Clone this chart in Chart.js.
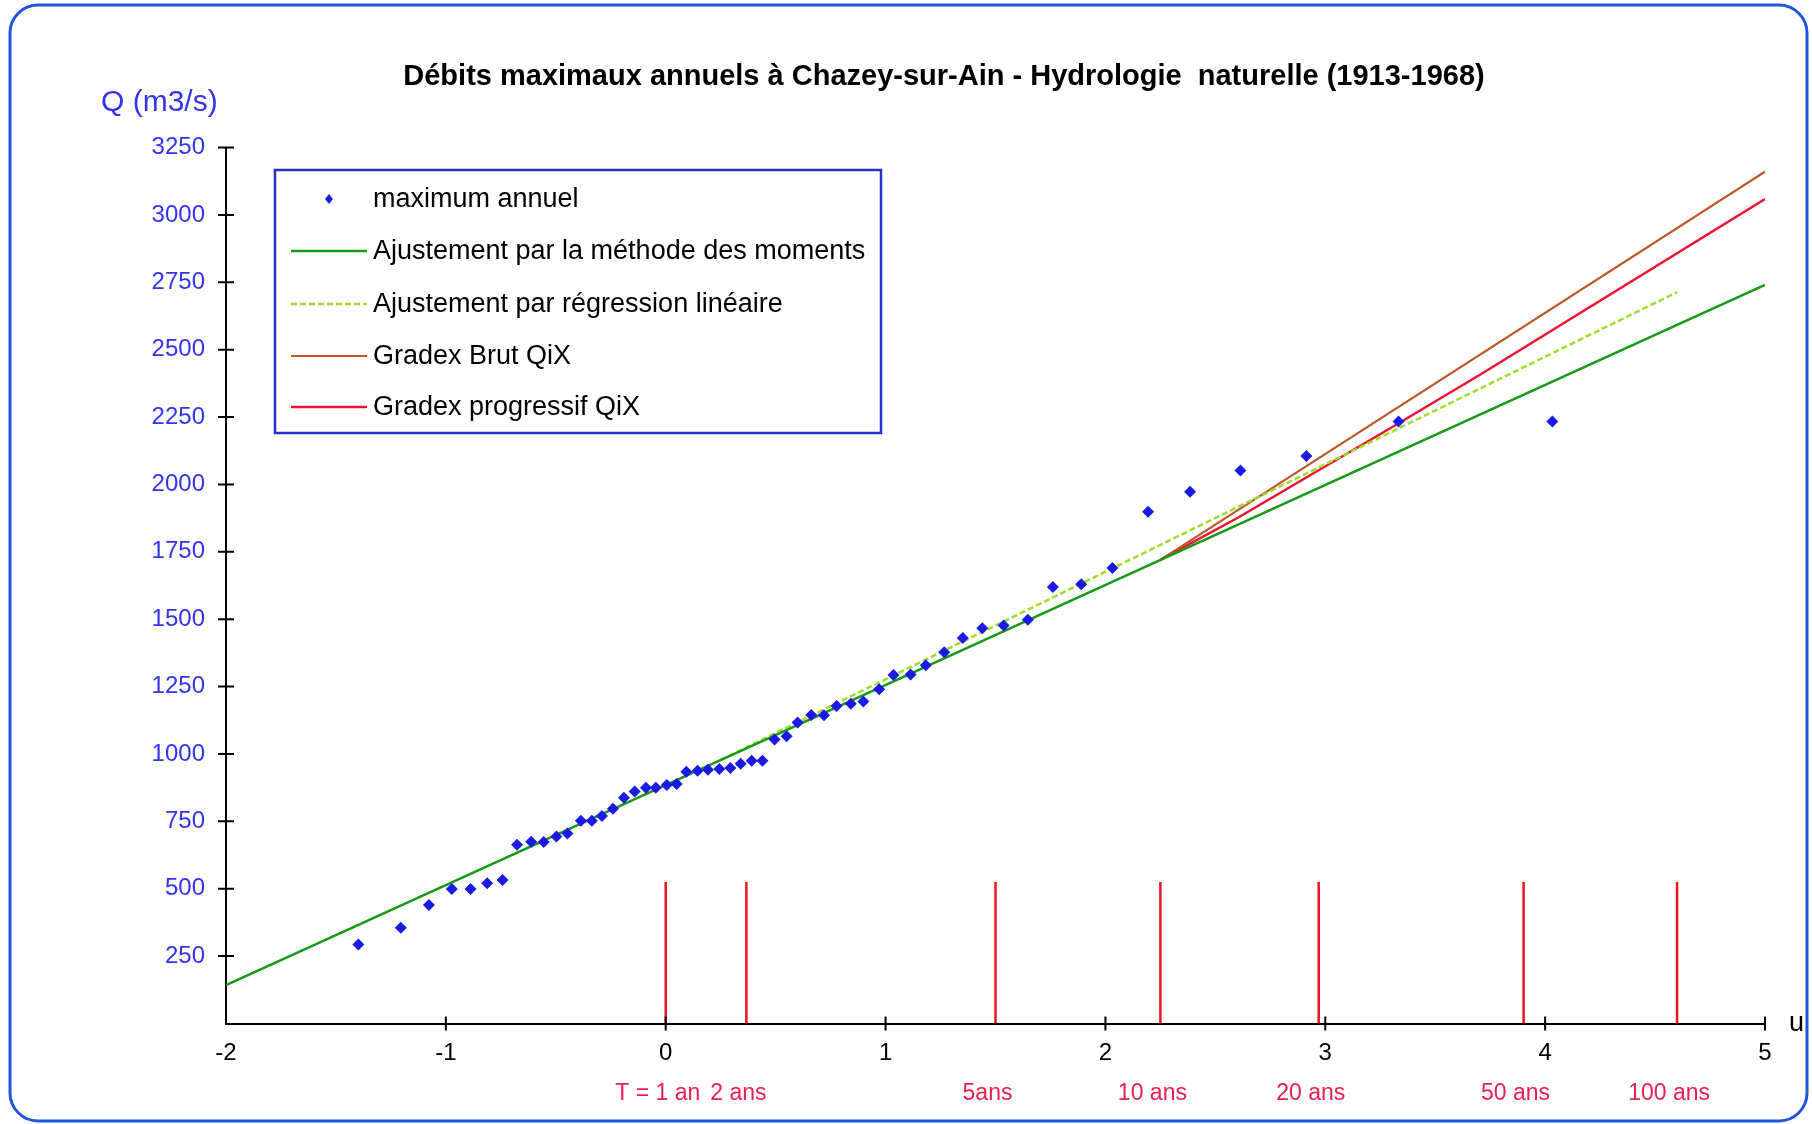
<!DOCTYPE html>
<html>
<head>
<meta charset="utf-8">
<script src="https://cdn.jsdelivr.net/npm/chart.js@4.4.1/dist/chart.umd.min.js"></script>
<style>
  html, body { margin: 0; padding: 0; background: #fff; }
  #wrap { width: 1812px; height: 1124px; }
</style>
</head>
<body>
<div id="wrap"><canvas id="chart" width="1812" height="1124"></canvas></div>
<script>
// Annual maxima (Gumbel reduced variable u, discharge Q in m3/s)
const obsU = [-1.398, -1.205, -1.077, -0.973, -0.888, -0.812, -0.742, -0.676, -0.612, -0.555,
  -0.497, -0.447, -0.386, -0.336, -0.290, -0.240, -0.190, -0.141, -0.090, -0.045,
  0.005, 0.050, 0.094, 0.145, 0.192, 0.244, 0.294, 0.341, 0.391, 0.440,
  0.495, 0.550, 0.600, 0.662, 0.720, 0.777, 0.842, 0.899, 0.971, 1.036,
  1.114, 1.183, 1.267, 1.351, 1.440, 1.537, 1.647, 1.761, 1.890, 2.032,
  2.194, 2.385, 2.614, 2.914, 3.333, 4.033];
const obsQ = [293, 355, 440, 499, 499, 520, 532, 663, 674, 673,
  694, 705, 752, 752, 770, 797, 838, 861, 875, 875,
  885, 889, 934, 938, 941, 944, 948, 964, 975, 975,
  1054, 1066, 1117, 1145, 1144, 1178, 1186, 1195, 1240, 1293,
  1295, 1329, 1377, 1430, 1466, 1477, 1498, 1619, 1630, 1690,
  1899, 1973, 2052, 2105, 2233, 2233];

// Fitted lines
const momentsU = [-2, 5];
const momentsQ = [142, 2740];
const regressionU = [0.25, 4.6];
const regressionQ = [978, 2713];
const gradexBrutU = [2.25, 5];
const gradexBrutQ = [1720, 3160];
const gradexProgU = [2.25, 2.61, 3.33, 3.70, 5];
const gradexProgQ = [1720, 1880, 2225, 2405, 3059];

// Return periods marked on the u axis
const periodU = [0, 0.367, 1.5, 2.25, 2.97, 3.902, 4.6];
const periodLabels = ['T = 1 an', '2 ans', '5ans', '10 ans', '20 ans', '50 ans', '100 ans'];
const periodMarkTop = 525;

const legendLabels = ['maximum annuel', 'Ajustement par la méthode des moments',
  'Ajustement par régression linéaire', 'Gradex Brut QiX', 'Gradex progressif QiX'];

const FONT = '"Liberation Sans", Arial, sans-serif';

function toPoints(us, qs) {
  return us.map((u, i) => ({ x: u, y: qs[i] }));
}

// vertical segments separated by gaps
const periodPoints = [];
periodU.forEach(u => {
  periodPoints.push({ x: u, y: 0 }, { x: u, y: periodMarkTop }, { x: u, y: null });
});

const extrasPlugin = {
  id: 'extras',
  beforeDraw(chart) {
    const ctx = chart.ctx;
    ctx.save();
    ctx.fillStyle = '#fff';
    ctx.fillRect(0, 0, chart.width, chart.height);
    ctx.restore();
  },
  afterDraw(chart) {
    const ctx = chart.ctx;
    const xs = chart.scales.x, ys = chart.scales.y;
    const x0 = xs.left, y0 = ys.bottom;
    ctx.save();

    // cross tick marks
    ctx.strokeStyle = '#000';
    ctx.lineWidth = 2;
    ctx.beginPath();
    for (let v = 250; v <= 3250; v += 250) {
      const py = ys.getPixelForValue(v);
      ctx.moveTo(x0 - 8, py); ctx.lineTo(x0 + 8, py);
    }
    for (let u = -1; u <= 5; u++) {
      const px = xs.getPixelForValue(u);
      ctx.moveTo(px, y0 - 7); ctx.lineTo(px, y0 + 7);
    }
    ctx.stroke();

    // title
    ctx.fillStyle = '#000';
    ctx.font = 'bold 29px ' + FONT;
    ctx.textAlign = 'center';
    ctx.textBaseline = 'alphabetic';
    ctx.fillText('Débits maximaux annuels à Chazey-sur-Ain - Hydrologie  naturelle (1913-1968)', 944, 85);

    // axis names
    ctx.font = '30px ' + FONT;
    ctx.fillStyle = '#3333ee';
    ctx.textAlign = 'left';
    ctx.fillText('Q (m3/s)', 101, 111);
    ctx.font = '27px ' + FONT;
    ctx.fillStyle = '#000';
    ctx.fillText('u', 1789, 1031);

    // return period labels
    ctx.font = '23px ' + FONT;
    ctx.fillStyle = '#e8204f';
    ctx.textAlign = 'center';
    ctx.textBaseline = 'middle';
    periodU.forEach((u, i) => {
      ctx.fillText(periodLabels[i], xs.getPixelForValue(u) - 8, 1094);
    });

    // legend box
    const lx = 275, ly = 170, lw = 606, lh = 263;
    ctx.fillStyle = '#fff';
    ctx.fillRect(lx, ly, lw, lh);
    ctx.strokeStyle = '#2233cc';
    ctx.lineWidth = 2.5;
    ctx.strokeRect(lx, ly, lw, lh);
    ctx.font = '27px ' + FONT;
    ctx.textAlign = 'left';
    ctx.textBaseline = 'middle';
    const rowY = [199, 251, 304, 356, 407];
    chart.data.datasets.slice(0, 5).forEach((ds, i) => {
      const ry = rowY[i];
      if (i === 0) {
        ctx.fillStyle = ds.backgroundColor;
        ctx.beginPath();
        ctx.moveTo(329, ry - 5); ctx.lineTo(333, ry); ctx.lineTo(329, ry + 5); ctx.lineTo(325, ry);
        ctx.closePath();
        ctx.fill();
      } else {
        ctx.strokeStyle = ds.borderColor;
        ctx.lineWidth = ds.borderWidth;
        ctx.setLineDash(ds.borderDash || []);
        ctx.beginPath();
        ctx.moveTo(291, ry); ctx.lineTo(367, ry);
        ctx.stroke();
        ctx.setLineDash([]);
      }
      ctx.fillStyle = '#000';
      ctx.fillText(legendLabels[i], 373, ry + 1);
    });

    // outer rounded frame
    ctx.strokeStyle = '#2255dd';
    ctx.lineWidth = 3;
    ctx.beginPath();
    ctx.roundRect(10, 5, 1797, 1116, 28);
    ctx.stroke();
    ctx.restore();
  }
};

const lineDefaults = { showLine: true, pointRadius: 0, pointHoverRadius: 0, fill: false, tension: 0 };

new Chart(document.getElementById('chart'), {
  type: 'scatter',
  data: {
    datasets: [
      {
        label: legendLabels[0],
        data: toPoints(obsU, obsQ),
        pointStyle: 'rectRot',
        pointRadius: 6,
        backgroundColor: '#1a1ae0',
        borderColor: '#1a1ae0',
        borderWidth: 0
      },
      Object.assign({}, lineDefaults, {
        label: legendLabels[1],
        data: toPoints(momentsU, momentsQ),
        borderColor: '#159a15',
        borderWidth: 2.5
      }),
      Object.assign({}, lineDefaults, {
        label: legendLabels[2],
        data: toPoints(regressionU, regressionQ),
        borderColor: '#9edd2a',
        borderWidth: 2.5,
        borderDash: [6, 3]
      }),
      Object.assign({}, lineDefaults, {
        label: legendLabels[3],
        data: toPoints(gradexBrutU, gradexBrutQ),
        borderColor: '#c0552a',
        borderWidth: 2.2
      }),
      Object.assign({}, lineDefaults, {
        label: legendLabels[4],
        data: toPoints(gradexProgU, gradexProgQ),
        borderColor: '#ee1133',
        borderWidth: 2.5
      }),
      Object.assign({}, lineDefaults, {
        label: 'périodes de retour',
        data: periodPoints,
        borderColor: '#ee1122',
        borderWidth: 2.5,
        spanGaps: false
      })
    ]
  },
  options: {
    responsive: false,
    animation: false,
    events: [],
    layout: { padding: { left: 10, right: 47, top: 147.5, bottom: 10 } },
    plugins: {
      legend: { display: false },
      title: { display: false },
      tooltip: { enabled: false }
    },
    scales: {
      x: {
        type: 'linear',
        min: -2,
        max: 5,
        grid: { display: false, drawTicks: false },
        border: { display: true, color: '#000', width: 2 },
        ticks: {
          stepSize: 1,
          color: '#000',
          padding: 15,
          font: { family: FONT, size: 24 }
        },
        afterFit: s => { s.height = 1124 - 10 - 1023.5; }
      },
      y: {
        type: 'linear',
        min: 0,
        max: 3250,
        grid: { display: false, drawTicks: false },
        border: { display: true, color: '#000', width: 2 },
        ticks: {
          stepSize: 250,
          color: '#3333ee',
          padding: 21,
          font: { family: FONT, size: 24 },
          callback: v => (v === 0 ? '' : v)
        },
        afterFit: s => { s.width = 226 - 10; }
      }
    }
  },
  plugins: [extrasPlugin]
});
</script>
</body>
</html>
